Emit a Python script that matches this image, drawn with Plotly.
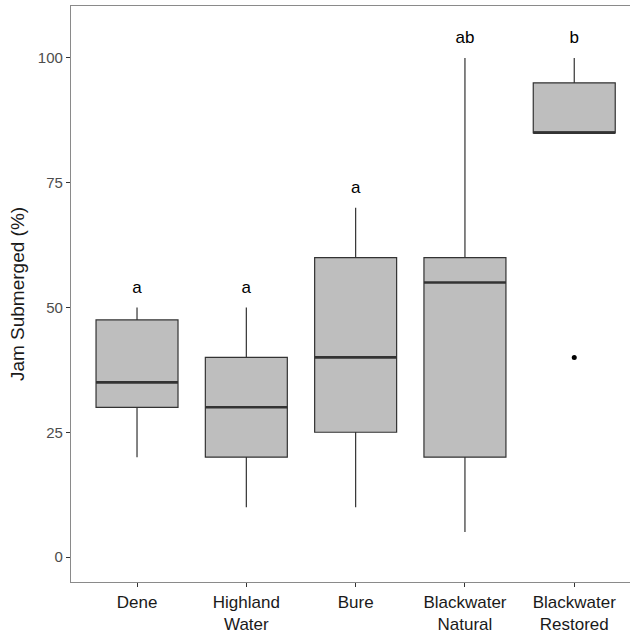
import plotly.graph_objects as go

# Jam submergence by river reach (precomputed box statistics)
sites = ["Dene", "Highland<br>Water", "Bure", "Blackwater<br>Natural", "Blackwater<br>Restored"]
lower = [20, 10, 10, 5, 85]
q1 = [30, 20, 25, 20, 85]
median = [35, 30, 40, 55, 85]
q3 = [47.5, 40, 60, 60, 95]
upper = [50, 50, 70, 100, 100]

# Outlying observations (site index, value)
outlier_site = [5]
outlier_value = [40]

# Compact letter display from post-hoc comparisons
letters = ["a", "a", "a", "ab", "b"]
letter_y = [53.8, 53.8, 73.8, 103.8, 103.8]

pos = list(range(1, len(sites) + 1))
box_w = 0.75
line_col = "#333333"
font_fam = "Liberation Sans, Arial, sans-serif"

fig = go.Figure()

fig.add_trace(go.Box(
    x=pos, q1=q1, median=median, q3=q3,
    lowerfence=lower, upperfence=upper,
    width=box_w, whiskerwidth=0,
    fillcolor="#BEBEBE",
    line=dict(color=line_col, width=1.2),
    boxpoints=False, showlegend=False, hoverinfo="skip",
))

# Heavier median bars, as in ggplot2
mx, my = [], []
for p, m in zip(pos, median):
    mx += [p - box_w / 2, p + box_w / 2, None]
    my += [m, m, None]
fig.add_trace(go.Scatter(
    x=mx, y=my, mode="lines",
    line=dict(color=line_col, width=2.6),
    showlegend=False, hoverinfo="skip",
))

fig.add_trace(go.Scatter(
    x=outlier_site, y=outlier_value, mode="markers",
    marker=dict(color="black", size=5),
    showlegend=False, hoverinfo="skip",
))

fig.add_trace(go.Scatter(
    x=pos, y=letter_y, text=letters, mode="text",
    textfont=dict(family=font_fam, size=17, color="black"),
    showlegend=False, hoverinfo="skip",
))

fig.update_layout(
    width=630, height=632,
    margin=dict(l=71, r=0, t=6, b=50),
    plot_bgcolor="white", paper_bgcolor="white",
    font=dict(family=font_fam),
)

fig.update_xaxes(
    range=[0.396, 5.51],
    tickvals=pos, ticktext=sites,
    ticks="outside", ticklen=4, tickcolor=line_col,
    tickfont=dict(size=17, color="#1a1a1a"),
    showline=True, linecolor="#8a8a8a", linewidth=1.2, mirror=True,
    showgrid=False, zeroline=False, automargin=False,
)

fig.update_yaxes(
    range=[-5.0, 110.4],
    tickvals=[0, 25, 50, 75, 100],
    ticks="outside", ticklen=4, tickcolor=line_col,
    tickfont=dict(size=15, color="#4D4D4D"),
    title=dict(text="Jam Submerged (%)", font=dict(size=19, color="#1a1a1a"), standoff=8),
    showline=True, linecolor="#8a8a8a", linewidth=1.2,
    showgrid=False, zeroline=False, automargin=False,
)

fig.write_html("out.html")
